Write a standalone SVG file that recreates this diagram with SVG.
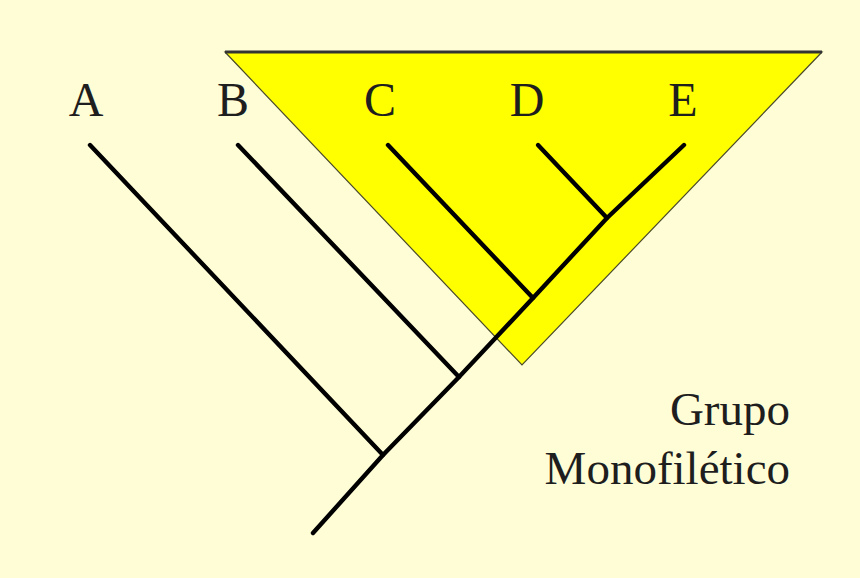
<svg xmlns="http://www.w3.org/2000/svg" width="860" height="578" viewBox="0 0 860 578">
<style>
.br{stroke:#000;stroke-width:4.4;stroke-linecap:round;fill:none}
.lbl{font-family:"Liberation Serif","Times New Roman",serif;font-size:48px;fill:#1e1e1e;text-anchor:middle}
.cap{font-family:"Liberation Serif","Times New Roman",serif;font-size:47px;fill:#1e1e1e;text-anchor:end}
</style>
<rect x="0" y="0" width="860" height="578" fill="#FEFDD6"/>
<g id="monophyletic-group">
<polygon points="225,52 822,52 522,365" fill="#FFFF00" stroke="#4a4a2a" stroke-width="1.2" stroke-linejoin="miter"/>
<line x1="225" y1="52" x2="822" y2="52" stroke="#333" stroke-width="3"/>
</g>
<g id="connectors">
<polyline class="br" points="313,533 383,455 459,377 533,298 607,218 684,145"/>
<line class="br" x1="90" y1="145" x2="383" y2="455"/>
<line class="br" x1="238" y1="145" x2="459" y2="377"/>
<line class="br" x1="388" y1="145" x2="533" y2="298"/>
<line class="br" x1="538" y1="145" x2="607" y2="218"/>
</g>
<g id="node-A"><text class="lbl" x="86" y="116">A</text></g>
<g id="node-B"><text class="lbl" x="233" y="116">B</text></g>
<g id="node-C"><text class="lbl" x="380" y="116">C</text></g>
<g id="node-D"><text class="lbl" x="527" y="116">D</text></g>
<g id="node-E"><text class="lbl" x="683" y="116">E</text></g>
<g id="label-group">
<text class="cap" x="790" y="425">Grupo</text>
<text class="cap" x="790" y="484">Monofilético</text>
</g>
</svg>
